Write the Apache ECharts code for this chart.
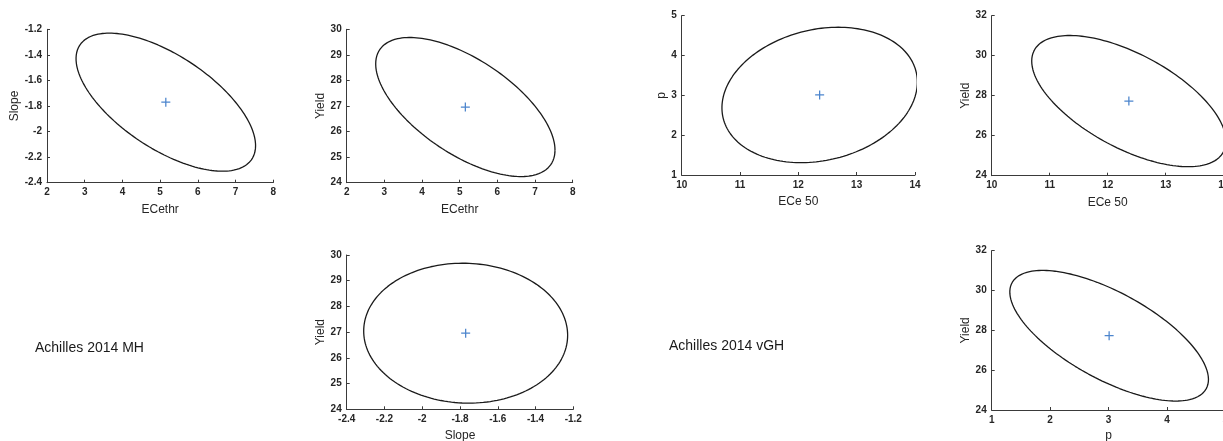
<!DOCTYPE html>
<html>
<head>
<meta charset="utf-8">
<script src="https://cdn.jsdelivr.net/npm/echarts@6/dist/echarts.min.js"></script>
<style>
  html, body { margin: 0; padding: 0; background: #fff; }
  #chart { width: 1223px; height: 441px; }
</style>
</head>
<body>
<div id="chart"></div>
<script>
// Achilles 2014 MH: parameter means, ellipse half-extents and pairwise correlations
const mhNames = ['ECethr', 'Slope', 'Yield'];
const mhMeans = [5.15, -1.77, 26.96];
const mhHalf = [2.38, 0.54, 2.72];
// correlations for pairs (0,1), (0,2), (1,2)
const mhCorr = [-0.63, -0.62, -0.03];

// Achilles 2014 vGH
const vghNames = ['ECe 50', 'p', 'Yield'];
const vghMeans = [12.365, 3.01, 27.73];
const vghHalf = [1.675, 1.70, 3.28];
const vghCorr = [0.19, -0.61, -0.67];

// axis ranges [min, max, interval]
const rangeECethr = [2, 8, 1];
const rangeSlope = [-2.4, -1.2, 0.2];
const rangeYieldMH = [24, 30, 1];
const rangeECe50 = [10, 14, 1];
const rangeP = [1, 5, 1];
const rangeYieldVGH = [24, 32, 2];

const datasetTitles = ['Achilles 2014 MH', 'Achilles 2014 vGH'];

// panel definitions: which dataset, which variable pair, which ranges
const panels = [
  { set: 0, xi: 0, yi: 1, corr: 0, xr: rangeECethr, yr: rangeSlope },
  { set: 0, xi: 0, yi: 2, corr: 1, xr: rangeECethr, yr: rangeYieldMH },
  { set: 1, xi: 0, yi: 1, corr: 0, xr: rangeECe50, yr: rangeP },
  { set: 1, xi: 0, yi: 2, corr: 1, xr: rangeECe50, yr: rangeYieldVGH },
  { set: 0, xi: 1, yi: 2, corr: 2, xr: rangeSlope, yr: rangeYieldMH },
  { set: 1, xi: 1, yi: 2, corr: 2, xr: rangeP, yr: rangeYieldVGH }
];

// plot-area boxes (layout only)
const boxes = [
  { left: 47, top: 29.3, width: 226.3, height: 153.4, xGap: 21, yGap: 24 },
  { left: 346.7, top: 29.3, width: 226, height: 153.4, xGap: 21, yGap: 19 },
  { left: 681.7, top: 15.7, width: 233.3, height: 159.3, xGap: 21, yGap: 14 },
  { left: 991.7, top: 15.7, width: 232, height: 160, xGap: 21, yGap: 19 },
  { left: 346.7, top: 255, width: 226.6, height: 154.3, xGap: 20, yGap: 19 },
  { left: 991.7, top: 250.7, width: 233.7, height: 159.3, xGap: 20, yGap: 19 }
];

const sets = [
  { names: mhNames, means: mhMeans, half: mhHalf, corr: mhCorr },
  { names: vghNames, means: vghMeans, half: vghHalf, corr: vghCorr }
];

const FONT = '"Liberation Sans", Arial, Helvetica, sans-serif';
const AX = '#262626';

// confidence ellipse: x = mx + ax cos t, y = my + ay cos(t + acos(r))
function ellipse(mx, my, ax, ay, r) {
  const phi = Math.acos(r);
  const pts = [];
  const n = 360;
  for (let i = 0; i <= n; i++) {
    const t = (i / n) * 2 * Math.PI;
    pts.push([mx + ax * Math.cos(t), my + ay * Math.cos(t + phi)]);
  }
  return pts;
}

const grids = [], xAxes = [], yAxes = [], series = [];

function axisCommon(range, name, gap) {
  return {
    type: 'value',
    min: range[0], max: range[1], interval: range[2],
    name: name, nameLocation: 'middle', nameGap: gap,
    nameTextStyle: { fontFamily: FONT, fontSize: 12, color: AX },
    axisLine: { show: true, onZero: false, lineStyle: { color: '#3a3a3a', width: 1 } },
    axisTick: { show: true, inside: true, length: 3, lineStyle: { color: '#3a3a3a' } },
    axisLabel: { fontFamily: FONT, fontSize: 10, fontWeight: 'bold', color: AX, margin: 5 },
    splitLine: { show: false }
  };
}

panels.forEach((p, i) => {
  const s = sets[p.set];
  const b = boxes[i];
  grids.push({ left: b.left, top: b.top, width: b.width, height: b.height,
               containLabel: false, outerBoundsMode: 'none', show: false });
  xAxes.push(Object.assign(axisCommon(p.xr, s.names[p.xi], b.xGap), { gridIndex: i, position: 'bottom' }));
  yAxes.push(Object.assign(axisCommon(p.yr, s.names[p.yi], b.yGap), { gridIndex: i, position: 'left' }));
  series.push({
    type: 'line', xAxisIndex: i, yAxisIndex: i,
    data: ellipse(s.means[p.xi], s.means[p.yi], s.half[p.xi], s.half[p.yi], s.corr[p.corr]),
    showSymbol: false, smooth: false, clip: false,
    lineStyle: { color: '#1a1a1a', width: 1.3 },
    silent: true
  });
  series.push({
    type: 'scatter', xAxisIndex: i, yAxisIndex: i,
    data: [[s.means[p.xi], s.means[p.yi]]],
    symbol: 'path://M4.3,0h1.4v4.3h4.3v1.4h-4.3v4.3h-1.4v-4.3h-4.3v-1.4h4.3z',
    symbolSize: 9,
    itemStyle: { color: '#1f66c1' },
    silent: true
  });
});

const chart = echarts.init(document.getElementById('chart'), null, { renderer: 'canvas' });
chart.setOption({
  animation: false,
  backgroundColor: '#ffffff',
  grid: grids,
  xAxis: xAxes,
  yAxis: yAxes,
  series: series,
  graphic: [
    { type: 'text', left: 35, top: 341, style: { text: datasetTitles[0], font: '14px ' + FONT, fill: '#1a1a1a' } },
    { type: 'text', left: 669, top: 339, style: { text: datasetTitles[1], font: '14px ' + FONT, fill: '#1a1a1a' } }
  ]
});
</script>
</body>
</html>
